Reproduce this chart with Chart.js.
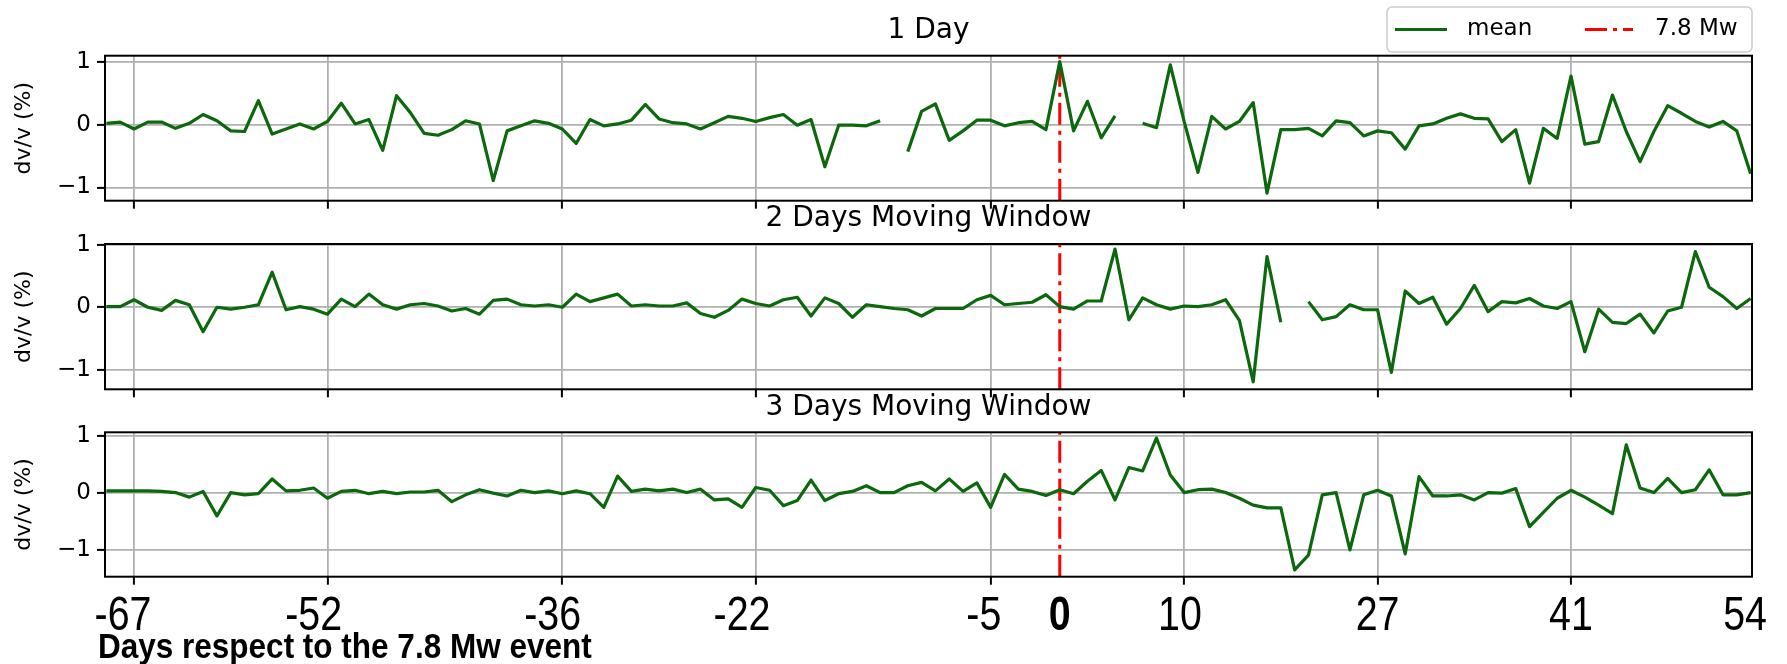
<!DOCTYPE html>
<html lang="en">
<head>
<meta charset="UTF-8">
<title>dv/v around the 7.8 Mw event</title>
<script src="https://cdn.jsdelivr.net/npm/chart.js@4.4.2/dist/chart.umd.min.js"></script>
<style>
  body { margin: 0; background: #fff; }
  .wrap { position: relative; width: 1787px; height: 664px; }
  .wrap canvas { position: absolute; left: 0; top: 0; }
</style>
</head>
<body>
<div class="wrap">
  <canvas id="day1" width="1787" height="664"></canvas>
  <canvas id="day2" width="1787" height="664"></canvas>
  <canvas id="day3" width="1787" height="664"></canvas>
</div>

<script>
// days relative to the 7.8 Mw event
const days = [
  -69, -68, -67, -66, -65, -64, -63, -62, -61, -60, -59, -58, -57, -56, -55, -54, -53, -52, -51, -50,
  -49, -48, -47, -46, -45, -44, -43, -42, -41, -40, -39, -38, -37, -36, -35, -34, -33, -32, -31, -30,
  -29, -28, -27, -26, -25, -24, -23, -22, -21, -20, -19, -18, -17, -16, -15, -14, -13, -12, -11, -10,
  -9, -8, -7, -6, -5, -4, -3, -2, -1, 0, 1, 2, 3, 4, 5, 6, 7, 8, 9, 10,
  11, 12, 13, 14, 15, 16, 17, 18, 19, 20, 21, 22, 23, 24, 25, 26, 27, 28, 29, 30,
  31, 32, 33, 34, 35, 36, 37, 38, 39, 40, 41, 42, 43, 44, 45, 46, 47, 48, 49, 50
];

// mean dv/v (%) - null where there is no value
const oneDay = [
  0.02, 0.04, -0.07, 0.04, 0.04, -0.06, 0.02, 0.16, 0.06, -0.10,
  -0.11, 0.38, -0.15, -0.07, 0.01, -0.07, 0.05, 0.34, 0.01, 0.08,
  -0.41, 0.46, 0.19, -0.14, -0.17, -0.08, 0.06, 0.01, -0.89, -0.10,
  -0.02, 0.06, 0.02, -0.07, -0.30, 0.08, -0.02, 0.01, 0.07, 0.32,
  0.09, 0.03, 0.01, -0.07, 0.03, 0.13, 0.10, 0.05, 0.11, 0.16,
  -0.01, 0.08, -0.67, -0.01, -0.01, -0.02, 0.06, null, -0.43, 0.21,
  0.33, -0.25, -0.10, 0.07, 0.07, -0.02, 0.03, 0.05, -0.08, 1.00,
  -0.10, 0.37, -0.21, 0.14, null, 0.02, -0.05, 0.95, 0.05, -0.76,
  0.13, -0.07, 0.05, 0.35, -1.09, -0.08, -0.08, -0.06, -0.18, 0.06,
  0.03, -0.18, -0.10, -0.13, -0.39, -0.02, 0.01, 0.10, 0.17, 0.10,
  0.09, -0.27, -0.08, -0.93, -0.06, -0.22, 0.77, -0.31, -0.27, 0.47,
  -0.11, -0.59, -0.11, 0.30, 0.18, 0.05, -0.04, 0.05, -0.10, -0.78
];
const twoDay = [
  0.01, 0.01, 0.12, 0.00, -0.05, 0.11, 0.04, -0.39, 0.00, -0.03,
  0.00, 0.04, 0.56, -0.04, 0.01, -0.03, -0.11, 0.13, 0.01, 0.21,
  0.04, -0.03, 0.04, 0.06, 0.02, -0.06, -0.02, -0.11, 0.11, 0.13,
  0.04, 0.02, 0.04, 0.00, 0.21, 0.09, 0.15, 0.21, 0.02, 0.04,
  0.02, 0.02, 0.07, -0.10, -0.16, -0.05, 0.13, 0.06, 0.02, 0.12,
  0.16, -0.14, 0.15, 0.06, -0.16, 0.04, 0.01, -0.02, -0.04, -0.14,
  -0.02, -0.02, -0.02, 0.12, 0.19, 0.04, 0.06, 0.08, 0.20, 0.01,
  -0.03, 0.10, 0.10, 0.93, -0.20, 0.15, 0.04, -0.03, 0.02, 0.01,
  0.04, 0.12, -0.21, -1.19, 0.81, -0.24, null, 0.09, -0.20, -0.15,
  0.04, -0.04, -0.04, -1.04, 0.26, 0.06, 0.16, -0.27, -0.02, 0.35,
  -0.07, 0.09, 0.07, 0.14, 0.02, -0.02, 0.09, -0.71, -0.03, -0.24,
  -0.26, -0.11, -0.41, -0.06, 0.00, 0.89, 0.32, 0.17, -0.02, 0.14
];
const threeDay = [
  0.04, 0.04, 0.04, 0.04, 0.03, 0.01, -0.07, 0.03, -0.40, 0.01,
  -0.03, -0.01, 0.25, 0.04, 0.05, 0.09, -0.09, 0.03, 0.05, -0.01,
  0.03, -0.01, 0.02, 0.02, 0.05, -0.15, -0.03, 0.06, 0.00, -0.05,
  0.05, 0.01, 0.04, -0.01, 0.04, -0.01, -0.25, 0.30, 0.03, 0.07,
  0.04, 0.07, 0.01, 0.07, -0.12, -0.10, -0.25, 0.10, 0.05, -0.22,
  -0.13, 0.23, -0.13, -0.01, 0.03, 0.13, 0.01, 0.01, 0.13, 0.19,
  0.04, 0.25, 0.03, 0.18, -0.25, 0.33, 0.07, 0.03, -0.04, 0.06,
  -0.01, 0.21, 0.40, -0.12, 0.45, 0.39, 0.97, 0.32, 0.01, 0.06,
  0.07, 0.01, -0.09, -0.21, -0.26, -0.26, -1.35, -1.09, -0.03, 0.01,
  -1.00, -0.03, 0.05, -0.05, -1.07, 0.29, -0.05, -0.05, -0.03, -0.12,
  0.01, 0.00, 0.08, -0.59, -0.34, -0.09, 0.05, -0.07, -0.21, -0.36,
  0.85, 0.09, 0.01, 0.26, 0.01, 0.06, 0.41, -0.03, -0.03, 0.01
];

const eventDay = 0;
const panelTitles = ['1 Day', '2 Days Moving Window', '3 Days Moving Window'];
const yLimits = [[-1.21, 1.095], [-1.31, 1.01], [-1.47, 1.07]];
const xLimits = [-69.1, 50.1];
// grid lines (1st and 15th of each month)
const gridDays = [-67, -53, -36, -22, -5, 9, 23, 37];
// labels written under the bottom panel
const bottomLabels = ['-67', '-52', '-36', '-22', '-5', '0', '10', '27', '41', '54'];
const bottomLabelDays = [-67.8, -54, -36.7, -23, -5.5, 0, 8.7, 23, 37, 49.6];
const xCaption = 'Days respect to the 7.8 Mw event';

// layout of the three panels (plot area top / bottom in px)
const panelTop = [55.7, 244, 432.3];
const panelBottom = [200.7, 389.3, 576.7];
const green = '#0c680c';
const red = '#ff0000';
const dashDot = [22, 6, 4, 6];

const frameAndTitle = {
    id: 'frameAndTitle',
    afterDatasetsDraw(chart, args, opts) {
        const {ctx, chartArea: a} = chart;
        ctx.save();
        ctx.strokeStyle = '#000';
        ctx.lineWidth = 2;
        ctx.strokeRect(a.left, a.top, a.right - a.left, a.bottom - a.top);
        ctx.fillStyle = '#000';
        ctx.font = '28px "DejaVu Sans"';
        ctx.textAlign = 'center';
        ctx.textBaseline = 'middle';
        ctx.fillText(opts.title, (a.left + a.right) / 2, a.top - 25);
        ctx.restore();
    }
};

// legend box at the top right
const legendBox = {
    id: 'legendBox',
    afterDraw(chart) {
        const ctx = chart.ctx;
        const ds = chart.data.datasets;
        ctx.save();
        ctx.beginPath();
        ctx.roundRect(1387, 7, 365, 45, 5);
        ctx.fillStyle = 'rgba(255,255,255,0.8)';
        ctx.fill();
        ctx.strokeStyle = '#cccccc';
        ctx.lineWidth = 1.5;
        ctx.stroke();

        ctx.lineWidth = 3.2;
        ctx.strokeStyle = ds[0].borderColor;
        ctx.beginPath(); ctx.moveTo(1395, 29.5); ctx.lineTo(1447, 29.5); ctx.stroke();
        ctx.strokeStyle = ds[1].borderColor;
        ctx.setLineDash(ds[1].borderDash);
        ctx.beginPath(); ctx.moveTo(1585, 29.5); ctx.lineTo(1633, 29.5); ctx.stroke();
        ctx.setLineDash([]);

        ctx.fillStyle = '#000';
        ctx.font = '23px "DejaVu Sans"';
        ctx.textBaseline = 'middle';
        ctx.textAlign = 'left';
        ctx.fillText(ds[0].label, 1467, 29);
        ctx.fillText(ds[1].label, 1655, 29);
        ctx.restore();
    }
};

// condensed look for the hand-set bottom text
function narrowText(ctx, txt, x, y, squeeze) {
    ctx.save();
    ctx.translate(x, y);
    ctx.scale(squeeze, 1);
    ctx.fillText(txt, 0, 0);
    ctx.restore();
}

// big day labels + caption under the last panel
const bottomText = {
    id: 'bottomText',
    afterDraw(chart) {
        const ctx = chart.ctx;
        const xs = chart.scales.x;
        ctx.save();
        ctx.fillStyle = '#000';
        ctx.textAlign = 'center';
        ctx.textBaseline = 'alphabetic';
        bottomLabels.forEach((txt, i) => {
            const bold = bottomLabelDays[i] === eventDay ? 'bold ' : '';
            ctx.font = bold + '48px "Liberation Sans", Arial, sans-serif';
            narrowText(ctx, txt, xs.getPixelForValue(bottomLabelDays[i]), 630, 0.82);
        });
        ctx.font = 'bold 35px "Liberation Sans", Arial, sans-serif';
        ctx.textAlign = 'left';
        ctx.textBaseline = 'middle';
        narrowText(ctx, xCaption, 98, 648, 0.9);
        ctx.restore();
    }
};

function makePanel(canvasId, idx, values) {
    const [yMin, yMax] = yLimits[idx];
    const extra = [frameAndTitle];
    if (idx === 0) extra.push(legendBox);
    if (idx === 2) extra.push(bottomText);

    return new Chart(document.getElementById(canvasId), {
        type: 'line',
        data: {
            datasets: [{
                label: 'mean',
                data: days.map((d, i) => ({x: d, y: values[i]})),
                borderColor: green,
                borderWidth: 3.2,
                borderJoinStyle: 'round',
                pointRadius: 0,
                tension: 0,
                spanGaps: false
            }, {
                label: '7.8 Mw',
                data: [{x: eventDay, y: yMin}, {x: eventDay, y: yMax}],
                borderColor: red,
                borderWidth: 3,
                borderDash: dashDot,
                pointRadius: 0
            }]
        },
        options: {
            responsive: false,
            animation: false,
            devicePixelRatio: 1,
            layout: {
                padding: {left: 0, right: 35, top: panelTop[idx], bottom: 664 - panelBottom[idx] - 12}
            },
            plugins: {
                legend: {display: false},
                tooltip: {enabled: false},
                frameAndTitle: {title: panelTitles[idx]}
            },
            scales: {
                x: {
                    type: 'linear',
                    min: xLimits[0],
                    max: xLimits[1],
                    afterBuildTicks: (scale) => { scale.ticks = gridDays.map(v => ({value: v})); },
                    afterFit: (scale) => { scale.height = 12; },
                    ticks: {display: false},
                    border: {display: false},
                    grid: {color: '#b0b0b0', lineWidth: 1.8, tickColor: '#000', tickWidth: 2, tickLength: 8}
                },
                y: {
                    min: yMin,
                    max: yMax,
                    afterFit: (scale) => { scale.width = 105; },
                    ticks: {
                        stepSize: 1,
                        includeBounds: false,
                        padding: 6,
                        color: '#000',
                        font: {family: 'DejaVu Sans', size: 23},
                        callback: v => (v < 0 ? '\u2212' + Math.abs(v) : String(v))
                    },
                    title: {
                        display: true,
                        text: 'dv/v (%)',
                        color: '#000',
                        font: {family: 'DejaVu Sans', size: 22},
                        padding: {top: 11, bottom: 0}
                    },
                    border: {display: false},
                    grid: {color: '#b0b0b0', lineWidth: 1.8, tickColor: '#000', tickWidth: 2, tickLength: 8}
                }
            }
        },
        plugins: extra
    });
}

makePanel('day1', 0, oneDay);
makePanel('day2', 1, twoDay);
makePanel('day3', 2, threeDay);
</script>
</body>
</html>
